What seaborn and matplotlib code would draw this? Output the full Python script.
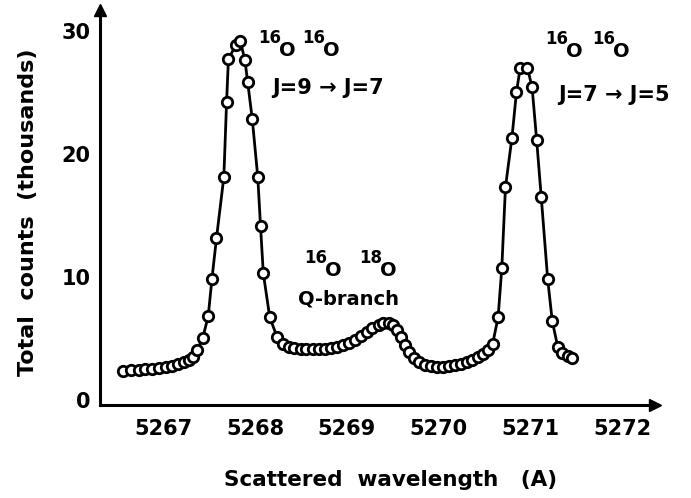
import pandas as pd
import matplotlib
matplotlib.use("Agg")
import matplotlib.pyplot as plt
import seaborn as sns

# wavelength (A) and total counts (thousands)
wavelength = [
    5266.56, 5266.65, 5266.73, 5266.80, 5266.88, 5266.95, 5267.03, 5267.09,
    5267.16, 5267.23, 5267.28, 5267.32, 5267.37, 5267.43, 5267.49, 5267.53,
    5267.58, 5267.66, 5267.69, 5267.71, 5267.79, 5267.84, 5267.89, 5267.92,
    5267.97, 5268.03, 5268.06, 5268.09, 5268.16, 5268.24, 5268.30,
    5268.37, 5268.43, 5268.50, 5268.56, 5268.63, 5268.70, 5268.76, 5268.83,
    5268.89, 5268.96, 5269.02, 5269.09, 5269.15, 5269.22, 5269.28, 5269.35,
    5269.40, 5269.46, 5269.50, 5269.55, 5269.59, 5269.63, 5269.68, 5269.73,
    5269.79, 5269.85, 5269.92, 5269.98, 5270.05, 5270.11, 5270.18, 5270.24,
    5270.31, 5270.37, 5270.43, 5270.48, 5270.54,
    5270.59, 5270.65, 5270.69, 5270.73, 5270.80, 5270.85, 5270.89, 5270.97,
    5271.02, 5271.07, 5271.12, 5271.19, 5271.24, 5271.30, 5271.35, 5271.41,
    5271.46,
]
counts = [
    2.36, 2.44, 2.44, 2.52, 2.52, 2.60, 2.68, 2.76,
    2.92, 3.09, 3.25, 3.49, 4.06, 5.04, 6.82, 9.83,
    13.16, 18.12, 24.21, 27.70, 28.84, 29.16, 27.62, 25.83,
    22.83, 18.12, 14.13, 10.32, 6.74, 5.12, 4.55,
    4.31, 4.22, 4.14, 4.14, 4.14, 4.14, 4.14, 4.22,
    4.31, 4.47, 4.63, 4.87, 5.20, 5.52, 5.85, 6.09,
    6.26, 6.26, 6.09, 5.69, 5.12, 4.47, 3.90, 3.41,
    3.09, 2.84, 2.76, 2.68, 2.68, 2.76, 2.84, 2.92,
    3.09, 3.25, 3.49, 3.74, 4.06,
    4.55, 6.74, 10.72, 17.30, 21.28, 25.02, 26.97, 26.97,
    25.43, 21.12, 16.49, 9.83, 6.42, 4.31, 3.82, 3.57,
    3.41,
]

x_ticks = [5267, 5268, 5269, 5270, 5271, 5272]
y_ticks = [0, 10, 20, 30]

df = pd.DataFrame({"wavelength": wavelength, "counts": counts})

sns.set_style("white")
plt.rcParams["font.family"] = ["DejaVu Sans"]
plt.rcParams["text.color"] = "black"

fig = plt.figure(figsize=(6.91, 4.98), dpi=100)
ax = fig.add_axes([0.1447, 0.1867, 0.8032, 0.7933])

sns.lineplot(data=df, x="wavelength", y="counts", ax=ax, color="black",
             linewidth=2, marker="o", markersize=7.5, markerfacecolor="white",
             markeredgecolor="black", markeredgewidth=2)

ax.set_xlim(5266.31, 5272.36)
ax.set_ylim(-0.41, 31.7)
ax.set_xticks(x_ticks)
ax.set_xticklabels([str(t) for t in x_ticks])
ax.set_yticks(y_ticks)
ax.set_xlabel("")
ax.set_ylabel("")

for s in ["top", "right"]:
    ax.spines[s].set_visible(False)
for s in ["left", "bottom"]:
    ax.spines[s].set_linewidth(2.2)
    ax.spines[s].set_color("black")

ax.tick_params(axis="x", direction="in", length=7, width=1.5, pad=10,
               labelsize=15, colors="black")
ax.tick_params(axis="y", length=0, pad=7, labelsize=15, colors="black")
for lab in ax.get_xticklabels() + ax.get_yticklabels():
    lab.set_fontweight("bold")

# arrow heads at the ends of the axes
ax.plot(1, 0, ">k", markersize=8, transform=ax.transAxes, clip_on=False)
ax.plot(0, 1, "^k", markersize=8, transform=ax.transAxes, clip_on=False)

# isotope labels: mass number then a lowered O
def isotope(x, y, mass):
    ax.text(x, y, mass, fontsize=12, fontweight="bold", ha="left", va="center")
    ax.annotate("O", xy=(x, y), xytext=(15, -9), textcoords="offset points",
                fontsize=14, fontweight="bold", ha="left", va="center")

isotope(5268.03, 29.4, "16")
isotope(5268.51, 29.4, "16")
isotope(5271.16, 29.3, "16")
isotope(5271.68, 29.3, "16")
isotope(5268.54, 11.5, "16")
isotope(5269.14, 11.5, "18")

ax.text(5268.19, 25.35, "J=9 \u2192 J=7", fontsize=15, fontweight="bold",
        ha="left", va="center")
ax.text(5271.30, 24.78, "J=7 \u2192 J=5", fontsize=15, fontweight="bold",
        ha="left", va="center")
ax.text(5269.02, 8.2, "Q-branch", fontsize=14, ha="center", va="center",
        fontweight="bold")

fig.text(391 / 691, 1 - 480 / 498, "Scattered  wavelength   (A)",
         fontsize=15.5, fontweight="bold", ha="center", va="center")
fig.text(28 / 691, 1 - 212 / 498, "Total  counts  (thousands)",
         fontsize=16, fontweight="bold", ha="center", va="center", rotation=90)

fig.savefig("out.png", dpi=100)
